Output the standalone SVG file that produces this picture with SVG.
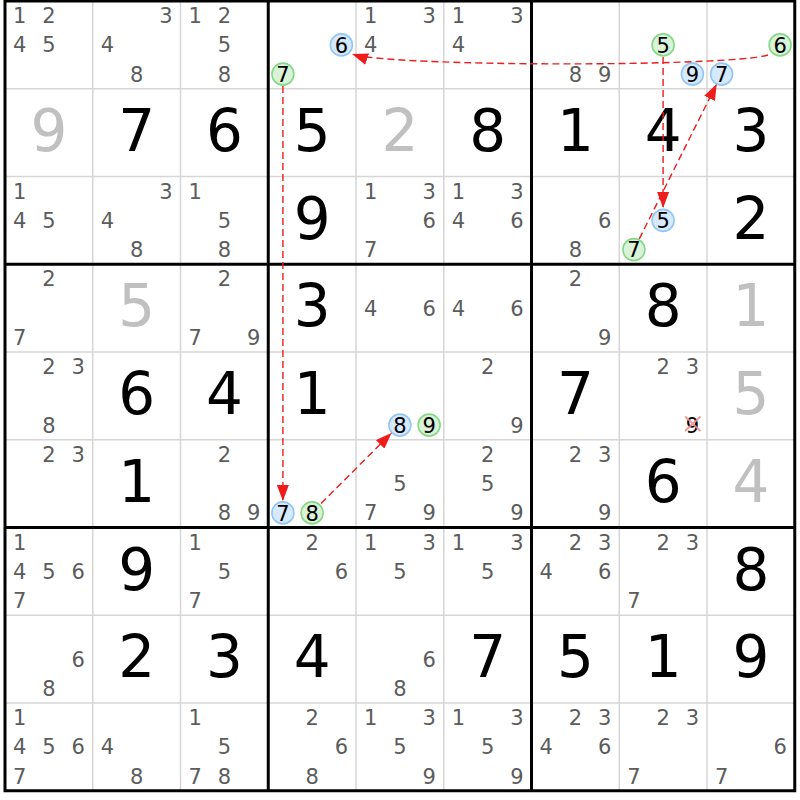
<svg xmlns="http://www.w3.org/2000/svg" width="800" height="800" viewBox="0 0 800 800">
<defs>
<style>
text{font-family:"DejaVu Sans","Verdana",sans-serif;text-anchor:middle}
.c{font-size:21px;fill:#5c5c5c}
.cd{font-size:21px;fill:#000}
.g{font-size:58px;fill:#000}
.s{font-size:58px;fill:#c0c0c0}
.cb{fill:#d6eaff;stroke:#94c6f5;stroke-width:1.6}
.cg{fill:#d8f3d8;stroke:#86d886;stroke-width:1.6}
.thin{stroke:#d6d6d6;stroke-width:1.5}
.thick{stroke:#000;stroke-width:3}
.arr{fill:none;stroke:#ee1c1c;stroke-width:1.4;stroke-dasharray:7,4;marker-end:url(#ah)}
.x{stroke:#f28a8a;stroke-width:2;stroke-opacity:0.85}
</style>
<marker id="ah" markerUnits="userSpaceOnUse" markerWidth="16" markerHeight="12" refX="16" refY="6" orient="auto"><path d="M0,0 L16,6 L0,12 z" fill="#ee1c1c"/></marker>
</defs>
<rect x="0" y="0" width="800" height="800" fill="#fff"/>
<g id="grid">
<path class="thin" d="M92.75,1V790.75M180.5,1V790.75M356,1V790.75M443.75,1V790.75M619.25,1V790.75M707,1V790.75M5,88.75H794.75M5,176.5H794.75M5,352H794.75M5,439.75H794.75M5,615.25H794.75M5,703H794.75"/>
<path class="thick" d="M268.25,1V790.75M531.5,1V790.75M5,264.25H794.75M5,527.5H794.75"/>
<rect class="thick" fill="none" x="5" y="1" width="789.75" height="789.75"/>
</g>
<g id="r0c0"><text class="c" x="19.6" y="23.1">1</text><text class="c" x="48.9" y="23.1">2</text><text class="c" x="19.6" y="52.4">4</text><text class="c" x="48.9" y="52.4">5</text></g>
<g id="r0c1"><text class="c" x="165.9" y="23.1">3</text><text class="c" x="107.4" y="52.4">4</text><text class="c" x="136.6" y="81.6">8</text></g>
<g id="r0c2"><text class="c" x="195.1" y="23.1">1</text><text class="c" x="224.4" y="23.1">2</text><text class="c" x="224.4" y="52.4">5</text><text class="c" x="224.4" y="81.6">8</text></g>
<g id="r0c3"><circle class="cb" cx="341.4" cy="44.9" r="11"/><text class="cd" x="341.4" y="52.5">6</text><circle class="cg" cx="282.9" cy="74.1" r="11"/><text class="cd" x="282.9" y="81.7">7</text></g>
<g id="r0c4"><text class="c" x="370.6" y="23.1">1</text><text class="c" x="429.1" y="23.1">3</text><text class="c" x="370.6" y="52.4">4</text></g>
<g id="r0c5"><text class="c" x="458.4" y="23.1">1</text><text class="c" x="516.9" y="23.1">3</text><text class="c" x="458.4" y="52.4">4</text></g>
<g id="r0c6"><text class="c" x="575.4" y="81.6">8</text><text class="c" x="604.6" y="81.6">9</text></g>
<g id="r0c7"><circle class="cg" cx="663.1" cy="44.9" r="11"/><text class="cd" x="663.1" y="52.5">5</text><circle class="cb" cx="692.4" cy="74.1" r="11"/><text class="cd" x="692.4" y="81.7">9</text></g>
<g id="r0c8"><circle class="cg" cx="780.1" cy="44.9" r="11"/><text class="cd" x="780.1" y="52.5">6</text><circle class="cb" cx="721.6" cy="74.1" r="11"/><text class="cd" x="721.6" y="81.7">7</text></g>
<g id="r1c0"><text class="s" x="48.9" y="150.75">9</text></g>
<g id="r1c1"><text class="g" x="136.6" y="150.75">7</text></g>
<g id="r1c2"><text class="g" x="224.4" y="150.75">6</text></g>
<g id="r1c3"><text class="g" x="312.1" y="150.75">5</text></g>
<g id="r1c4"><text class="s" x="399.9" y="150.75">2</text></g>
<g id="r1c5"><text class="g" x="487.6" y="150.75">8</text></g>
<g id="r1c6"><text class="g" x="575.4" y="150.75">1</text></g>
<g id="r1c7"><text class="g" x="663.1" y="150.75">4</text></g>
<g id="r1c8"><text class="g" x="750.9" y="150.75">3</text></g>
<g id="r2c0"><text class="c" x="19.6" y="198.6">1</text><text class="c" x="19.6" y="227.9">4</text><text class="c" x="48.9" y="227.9">5</text></g>
<g id="r2c1"><text class="c" x="165.9" y="198.6">3</text><text class="c" x="107.4" y="227.9">4</text><text class="c" x="136.6" y="257.1">8</text></g>
<g id="r2c2"><text class="c" x="195.1" y="198.6">1</text><text class="c" x="224.4" y="227.9">5</text><text class="c" x="224.4" y="257.1">8</text></g>
<g id="r2c3"><text class="g" x="312.1" y="238.5">9</text></g>
<g id="r2c4"><text class="c" x="370.6" y="198.6">1</text><text class="c" x="429.1" y="198.6">3</text><text class="c" x="429.1" y="227.9">6</text><text class="c" x="370.6" y="257.1">7</text></g>
<g id="r2c5"><text class="c" x="458.4" y="198.6">1</text><text class="c" x="516.9" y="198.6">3</text><text class="c" x="458.4" y="227.9">4</text><text class="c" x="516.9" y="227.9">6</text></g>
<g id="r2c6"><text class="c" x="604.6" y="227.9">6</text><text class="c" x="575.4" y="257.1">8</text></g>
<g id="r2c7"><circle class="cb" cx="663.1" cy="220.4" r="11"/><text class="cd" x="663.1" y="228">5</text><circle class="cg" cx="633.9" cy="249.6" r="11"/><text class="cd" x="633.9" y="257.2">7</text></g>
<g id="r2c8"><text class="g" x="750.9" y="238.5">2</text></g>
<g id="r3c0"><text class="c" x="48.9" y="286.4">2</text><text class="c" x="19.6" y="344.9">7</text></g>
<g id="r3c1"><text class="s" x="136.6" y="326.25">5</text></g>
<g id="r3c2"><text class="c" x="224.4" y="286.4">2</text><text class="c" x="195.1" y="344.9">7</text><text class="c" x="253.6" y="344.9">9</text></g>
<g id="r3c3"><text class="g" x="312.1" y="326.25">3</text></g>
<g id="r3c4"><text class="c" x="370.6" y="315.6">4</text><text class="c" x="429.1" y="315.6">6</text></g>
<g id="r3c5"><text class="c" x="458.4" y="315.6">4</text><text class="c" x="516.9" y="315.6">6</text></g>
<g id="r3c6"><text class="c" x="575.4" y="286.4">2</text><text class="c" x="604.6" y="344.9">9</text></g>
<g id="r3c7"><text class="g" x="663.1" y="326.25">8</text></g>
<g id="r3c8"><text class="s" x="750.9" y="326.25">1</text></g>
<g id="r4c0"><text class="c" x="48.9" y="374.1">2</text><text class="c" x="78.1" y="374.1">3</text><text class="c" x="48.9" y="432.6">8</text></g>
<g id="r4c1"><text class="g" x="136.6" y="414">6</text></g>
<g id="r4c2"><text class="g" x="224.4" y="414">4</text></g>
<g id="r4c3"><text class="g" x="312.1" y="414">1</text></g>
<g id="r4c4"><circle class="cb" cx="399.9" cy="425.1" r="11"/><text class="cd" x="399.9" y="432.7">8</text><circle class="cg" cx="429.1" cy="425.1" r="11"/><text class="cd" x="429.1" y="432.7">9</text></g>
<g id="r4c5"><text class="c" x="487.6" y="374.1">2</text><text class="c" x="516.9" y="432.6">9</text></g>
<g id="r4c6"><text class="g" x="575.4" y="414">7</text></g>
<g id="r4c7"><text class="c" x="663.1" y="374.1">2</text><text class="c" x="692.4" y="374.1">3</text><text class="cd" x="692.4" y="432.6">9</text><path class="x" d="M685,416.5L700.5,431M685,431L700.5,416.5"/></g>
<g id="r4c8"><text class="s" x="750.9" y="414">5</text></g>
<g id="r5c0"><text class="c" x="48.9" y="461.9">2</text><text class="c" x="78.1" y="461.9">3</text></g>
<g id="r5c1"><text class="g" x="136.6" y="501.75">1</text></g>
<g id="r5c2"><text class="c" x="224.4" y="461.9">2</text><text class="c" x="224.4" y="520.4">8</text><text class="c" x="253.6" y="520.4">9</text></g>
<g id="r5c3"><circle class="cb" cx="282.9" cy="512.9" r="11"/><text class="cd" x="282.9" y="520.5">7</text><circle class="cg" cx="312.1" cy="512.9" r="11"/><text class="cd" x="312.1" y="520.5">8</text></g>
<g id="r5c4"><text class="c" x="399.9" y="491.1">5</text><text class="c" x="370.6" y="520.4">7</text><text class="c" x="429.1" y="520.4">9</text></g>
<g id="r5c5"><text class="c" x="487.6" y="461.9">2</text><text class="c" x="487.6" y="491.1">5</text><text class="c" x="516.9" y="520.4">9</text></g>
<g id="r5c6"><text class="c" x="575.4" y="461.9">2</text><text class="c" x="604.6" y="461.9">3</text><text class="c" x="604.6" y="520.4">9</text></g>
<g id="r5c7"><text class="g" x="663.1" y="501.75">6</text></g>
<g id="r5c8"><text class="s" x="750.9" y="501.75">4</text></g>
<g id="r6c0"><text class="c" x="19.6" y="549.6">1</text><text class="c" x="19.6" y="578.9">4</text><text class="c" x="48.9" y="578.9">5</text><text class="c" x="78.1" y="578.9">6</text><text class="c" x="19.6" y="608.1">7</text></g>
<g id="r6c1"><text class="g" x="136.6" y="589.5">9</text></g>
<g id="r6c2"><text class="c" x="195.1" y="549.6">1</text><text class="c" x="224.4" y="578.9">5</text><text class="c" x="195.1" y="608.1">7</text></g>
<g id="r6c3"><text class="c" x="312.1" y="549.6">2</text><text class="c" x="341.4" y="578.9">6</text></g>
<g id="r6c4"><text class="c" x="370.6" y="549.6">1</text><text class="c" x="429.1" y="549.6">3</text><text class="c" x="399.9" y="578.9">5</text></g>
<g id="r6c5"><text class="c" x="458.4" y="549.6">1</text><text class="c" x="516.9" y="549.6">3</text><text class="c" x="487.6" y="578.9">5</text></g>
<g id="r6c6"><text class="c" x="575.4" y="549.6">2</text><text class="c" x="604.6" y="549.6">3</text><text class="c" x="546.1" y="578.9">4</text><text class="c" x="604.6" y="578.9">6</text></g>
<g id="r6c7"><text class="c" x="663.1" y="549.6">2</text><text class="c" x="692.4" y="549.6">3</text><text class="c" x="633.9" y="608.1">7</text></g>
<g id="r6c8"><text class="g" x="750.9" y="589.5">8</text></g>
<g id="r7c0"><text class="c" x="78.1" y="666.6">6</text><text class="c" x="48.9" y="695.9">8</text></g>
<g id="r7c1"><text class="g" x="136.6" y="677.25">2</text></g>
<g id="r7c2"><text class="g" x="224.4" y="677.25">3</text></g>
<g id="r7c3"><text class="g" x="312.1" y="677.25">4</text></g>
<g id="r7c4"><text class="c" x="429.1" y="666.6">6</text><text class="c" x="399.9" y="695.9">8</text></g>
<g id="r7c5"><text class="g" x="487.6" y="677.25">7</text></g>
<g id="r7c6"><text class="g" x="575.4" y="677.25">5</text></g>
<g id="r7c7"><text class="g" x="663.1" y="677.25">1</text></g>
<g id="r7c8"><text class="g" x="750.9" y="677.25">9</text></g>
<g id="r8c0"><text class="c" x="19.6" y="725.1">1</text><text class="c" x="19.6" y="754.4">4</text><text class="c" x="48.9" y="754.4">5</text><text class="c" x="78.1" y="754.4">6</text><text class="c" x="19.6" y="783.6">7</text></g>
<g id="r8c1"><text class="c" x="107.4" y="754.4">4</text><text class="c" x="136.6" y="783.6">8</text></g>
<g id="r8c2"><text class="c" x="195.1" y="725.1">1</text><text class="c" x="224.4" y="754.4">5</text><text class="c" x="195.1" y="783.6">7</text><text class="c" x="224.4" y="783.6">8</text></g>
<g id="r8c3"><text class="c" x="312.1" y="725.1">2</text><text class="c" x="341.4" y="754.4">6</text><text class="c" x="312.1" y="783.6">8</text></g>
<g id="r8c4"><text class="c" x="370.6" y="725.1">1</text><text class="c" x="429.1" y="725.1">3</text><text class="c" x="399.9" y="754.4">5</text><text class="c" x="429.1" y="783.6">9</text></g>
<g id="r8c5"><text class="c" x="458.4" y="725.1">1</text><text class="c" x="516.9" y="725.1">3</text><text class="c" x="487.6" y="754.4">5</text><text class="c" x="516.9" y="783.6">9</text></g>
<g id="r8c6"><text class="c" x="575.4" y="725.1">2</text><text class="c" x="604.6" y="725.1">3</text><text class="c" x="546.1" y="754.4">4</text><text class="c" x="604.6" y="754.4">6</text></g>
<g id="r8c7"><text class="c" x="663.1" y="725.1">2</text><text class="c" x="692.4" y="725.1">3</text><text class="c" x="633.9" y="783.6">7</text></g>
<g id="r8c8"><text class="c" x="780.1" y="754.4">6</text><text class="c" x="721.6" y="783.6">7</text></g>
<g id="connectors">
<path class="arr" d="M768,55 C730,67 390,67 352,54"/>
<path class="arr" d="M663.1,57 V208"/>
<path class="arr" d="M639.3,238.9 L716.7,84"/>
<path class="arr" d="M282.9,86 V501"/>
<path class="arr" d="M321,503.5 L391.5,433"/>
</g>
</svg>
